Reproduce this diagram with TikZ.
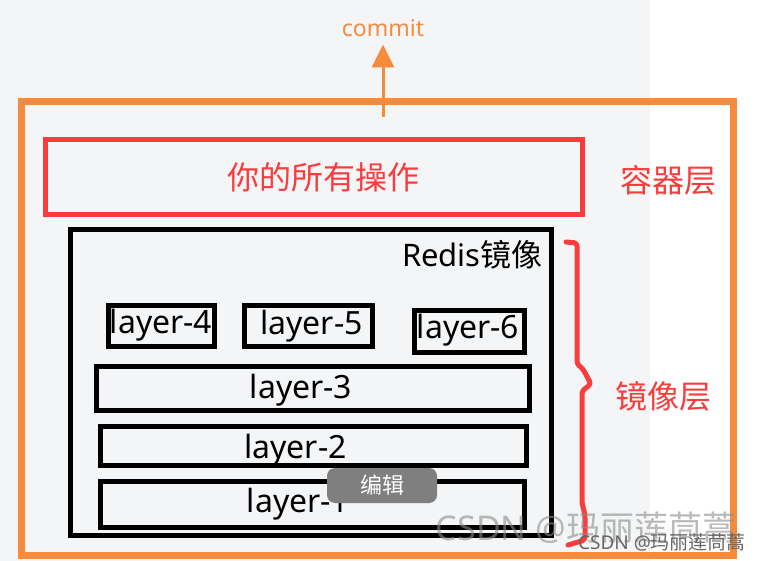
\documentclass[tikz,border=0pt]{standalone}
\usepackage{fontspec}
\setmainfont{Noto Sans}
\newfontfamily\cjk{Noto Sans CJK SC}
\usetikzlibrary{arrows.meta}
\definecolor{bggray}{HTML}{F4F5F7}
\definecolor{commitorange}{HTML}{F68B3B}
\definecolor{layerred}{HTML}{FA3C3C}
\definecolor{editgray}{HTML}{7F7F7F}
\newcommand{\fs}[1]{\fontsize{#1}{#1}\selectfont}

\tikzset{
  box/.style={draw, rectangle, inner sep=0pt, line width=5pt},
  layerbox/.style={box, draw=black},
  txt/.style={inner sep=0pt, anchor=base},
  layertext/.style={txt, font=\fs{32}},
  redtext/.style={txt, text=layerred, font=\cjk\fs{32}},
  commitarrow/.style={draw=commitorange, line width=3pt, -{Triangle[width=22pt,length=23pt]}, shorten >=7pt},
}

\begin{document}
\begin{tikzpicture}[x=1pt,y=-1pt]
\useasboundingbox (0,0) rectangle (760,561);
\fill[white] (0,0) rectangle (760,561);
\fill[bggray] (0,0) rectangle (650,561);

% container layer
\node[box, draw=commitorange, line width=7pt, minimum width=712, minimum height=454] (container) at (377.5,328.5) {};
\node[box, draw=layerred, minimum width=537, minimum height=75] (ops) at (314,177) {};
\node[redtext] (opstext) at (323,190) {你的所有操作};
\node[redtext] (containerlabel) at (668,193) {容器层};

% commit
\node[txt, text=commitorange, font=\fs{23}] (commit) at (383,37) {commit};
\coordinate (foot) at (383,117);
\draw[commitarrow] (foot) -- (commit);

% image
\node[layerbox, minimum width=481.5, minimum height=305] (redis) at (310.75,382.5) {};
\node[txt, font=\fs{31}] (redistext) at (472.5,267) {Redis{\cjk 镜像}};

\node[layerbox, minimum width=105.5, minimum height=40.5] (L4) at (161.25,325.75) {};
\node[layerbox, minimum width=127.5, minimum height=40.5] (L5) at (308.25,325.75) {};
\node[layerbox, minimum width=110, minimum height=42] (L6) at (469.5,331) {};
\node[layerbox, minimum width=433.5, minimum height=44.5] (L3) at (312.75,388.25) {};
\node[layerbox, minimum width=426.5, minimum height=39] (L2) at (313.25,446) {};
\node[layerbox, minimum width=424, minimum height=46] (L1) at (312,504) {};

\node[layertext] (L4text) at (161,333) {layer-4};
\node[layertext] (L5text) at (311.5,334) {layer-5};
\node[layertext] (L6text) at (468,338) {layer-6};
\node[layertext] (L3text) at (301,398) {layer-3};
\node[layertext] (L2text) at (295.5,458) {layer-2};
\node[layertext] (L1text) at (298,512) {layer-1};

% brace
\draw[layerred, line width=5pt, line join=round, line cap=round, rounded corners=3pt]
  (566,242) -- (577,243) -- (577,364) -- (583,369) -- (591,384) -- (582,391)
  -- (582,503) -- (585,515) -- (585,540) -- (568,545);
\node[redtext] (imagelabel) at (663.5,408) {镜像层};

% overlay
\node[fill=editgray, rounded corners=8pt, inner sep=0pt, minimum width=110, minimum height=35,
  text=white, font=\cjk\fs{22}] (edit) at (382,485.5) {编辑};
\node[txt, text=black!45, opacity=0.6, font=\fs{34}] (mark) at (586,540) {CSDN @{\cjk 玛丽莲茼蒿}};
\node[txt, text=black!60, font=\fs{19}] (marksmall) at (662,549) {CSDN @{\cjk 玛丽莲茼蒿}};
\end{tikzpicture}
\end{document}
